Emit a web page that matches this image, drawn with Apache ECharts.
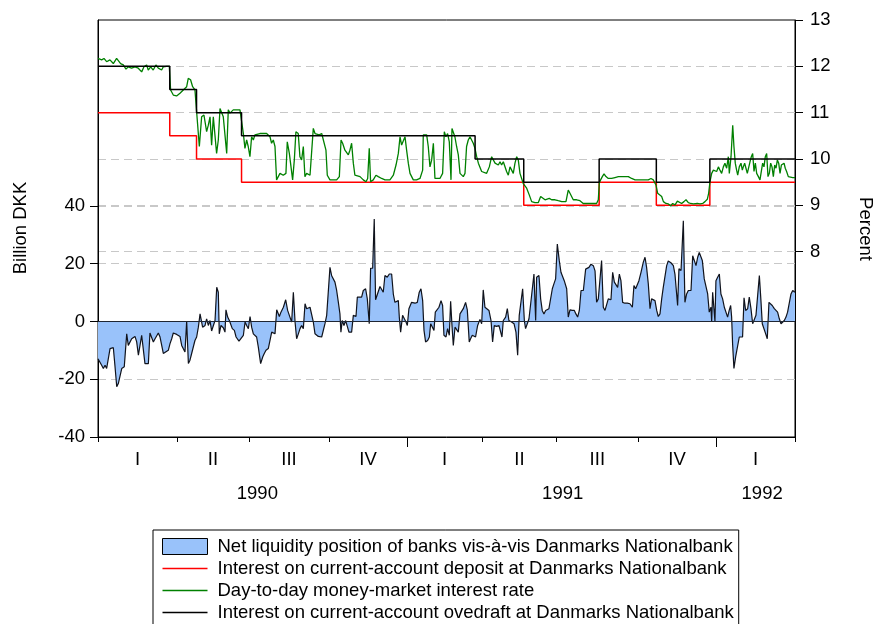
<!DOCTYPE html>
<html>
<head>
<meta charset="utf-8">
<script src="https://cdn.jsdelivr.net/npm/echarts@6/dist/echarts.min.js"></script>
<style>
  html, body { margin: 0; padding: 0; background: #fff; }
  #chart { width: 875px; height: 624px; }
</style>
</head>
<body>
<div id="chart"></div>
<script>
// Trading-day index at the start of each quarter, 1990Q1 .. 1992Q1 (last entry = end of sample)
const quarterStart = [0, 65, 124, 190, 254, 316, 377, 444, 508, 573];
const quarterNames = ['I', 'II', 'III', 'IV', 'I', 'II', 'III', 'IV', 'I'];
const yearStart = [254, 508];
const yearNames = ['1990', '1991', '1992'];
const yearLabelAt = [131, 382, 546];

// Official rates (percent), changing on the given trading days
const rateDay       = [0, 59, 81, 118, 310, 350, 412, 459, 503, 573];
const depositRate   = [11, 10.5, 10, 9.5, 9.5, 9, 9.5, 9, 9.5, 9.5];
const overdraftRate = [12, 11.5, 11, 10.5, 10, 9.5, 10, 9.5, 10, 10];

// Day-to-day money-market rate (percent): [trading day, rate]
const dayToDayRate = [
  [0,12.17],[3,12.14],[4.9,12.17],[7.1,12.10],[9.8,12.14],[12.6,12.06],[15.3,12.17],[16.7,12.17],[18.6,12.06],[20.8,12.03],
  [23,11.94],[24.9,11.99],[27.6,11.96],[30.4,11.99],[33.1,11.96],[35.9,11.88],[37.8,11.99],[40,12.03],[41.3,11.92],[43.3,11.99],
  [45.4,11.92],[47.6,12.03],[49.6,11.96],[52.3,11.92],[53.7,11.99],[56.4,12.0],[58.6,12.0],[59.7,11.49],[61.9,11.38],[64.6,11.36],
  [67.4,11.42],[70.1,11.49],[72.9,11.56],[74.2,11.74],[76.1,11.71],[77.8,11.56],[79.7,11.49],[81.1,11.45],[83.3,10.27],[85.2,10.91],
  [87.1,10.95],[89.3,10.59],[90.7,10.73],[92.1,10.91],[93.4,10.30],[94.8,10.91],[96.2,10.91],[97.5,10.12],[98.9,10.41],[100.3,11.09],
  [101.6,11.06],[103,10.91],[104.4,10.95],[105.8,10.12],[107.1,11.06],[108.5,10.99],[111.2,11.06],[112.6,11.09],[114.5,11.06],[116.7,11.06],
  [119.5,10.55],[120.8,10.23],[122.2,10.41],[123.5,10.27],[124.9,10.05],[126.3,10.48],[127.7,10.41],[129,10.52],[130.4,10.48],[133.1,10.55],
  [135.9,10.55],[138.6,10.55],[141.4,10.48],[142.7,10.34],[144.1,10.41],[145.5,10.27],[146.8,9.55],[149.6,9.69],[152.3,9.65],[154.5,9.69],
  [155.6,10.37],[157.3,10.12],[158.3,10.16],[160,9.55],[161.4,9.98],[162.7,10.59],[164.6,10.55],[166,10.05],[167.4,9.98],[168.8,10.27],
  [170.1,9.62],[171.5,9.69],[172.9,9.73],[174.3,9.65],[175.6,9.69],[177,10.66],[178.4,10.55],[179.8,10.55],[181.9,10.52],[183.9,10.55],
  [185.2,10.52],[187.4,10.19],[188.5,9.65],[190.7,9.55],[193.4,9.55],[196.2,9.55],[198.4,9.62],[199.8,10.41],[201.1,10.34],[203,10.19],
  [204.4,10.16],[205.8,10.09],[207.1,10.19],[208.5,10.34],[209.9,9.91],[211.2,9.65],[212.6,9.65],[215.4,9.62],[218.1,9.55],[220.3,9.51],
  [221.7,9.58],[223,10.23],[224.1,9.51],[226.3,9.55],[228.5,9.65],[230.4,9.62],[233.2,9.58],[235.9,9.55],[237.3,9.51],[240,9.55],
  [242.8,9.65],[245,9.87],[246.9,10.12],[248.3,10.48],[249.6,10.30],[251,10.27],[252.4,10.48],[253.7,10.19],[255.1,9.91],[256.5,9.69],
  [259.2,9.55],[261.9,9.55],[264.7,9.58],[266.9,9.76],[267.4,10.52],[268.8,10.55],[270.2,10.52],[271.5,10.27],[272.9,9.83],[274.3,9.98],
  [275.7,10.34],[277,9.58],[278.4,9.55],[281.1,9.58],[283.3,9.69],[284.7,10.59],[286,10.48],[287.4,10.55],[288.8,10.37],[290.2,9.55],
  [291,10.66],[292.1,10.63],[293.4,10.48],[294.8,10.27],[296.2,10.09],[297.6,9.69],[298.9,9.73],[300.3,9.62],[301.7,9.69],[303,10.27],
  [304.4,10.41],[305.8,10.48],[307.2,10.48],[308.5,10.34],[309.9,10.23],[311.3,10.05],[312.7,9.91],[315.4,9.73],[316.8,9.69],[319.5,9.69],
  [321.7,9.83],[323.6,10.05],[325,10.02],[326.4,9.91],[327.7,9.94],[329.1,9.87],[330.5,9.94],[331.8,9.87],[333.2,9.94],[334.6,9.94],
  [335.9,9.73],[337.3,9.65],[338.7,9.83],[340.1,9.80],[341.4,9.69],[342.8,9.91],[344.2,10.05],[345.5,9.98],[346.9,9.69],[348.3,9.65],
  [349.6,9.47],[351,9.44],[352.4,9.37],[354.6,9.22],[356.5,9.08],[359.2,9.06],[362,9.06],[363.9,9.19],[365.5,9.15],[367.5,9.12],
  [368.8,9.15],[371,9.15],[372.9,9.12],[375.7,9.12],[378.4,9.10],[381.2,9.08],[384.7,9.08],[386.6,9.33],[388,9.26],[390.7,9.12],
  [393.5,9.12],[396.2,9.10],[398.9,9.04],[403.1,9.04],[404.5,9.03],[407.2,9.04],[409.9,9.04],[411.3,9.12],[412.1,9.47],[413.2,9.55],
  [414.6,9.62],[416,9.68],[417.6,9.62],[419.5,9.58],[422.3,9.58],[425,9.60],[427.8,9.62],[430.5,9.62],[433.2,9.62],[436,9.62],
  [438.7,9.58],[441.5,9.55],[444.2,9.55],[448.3,9.55],[452.4,9.55],[454.6,9.58],[456.5,9.55],[458.7,9.44],[460.1,9.26],[461.5,9.22],
  [463.4,9.19],[464.8,9.08],[466.9,9.04],[468.9,9.03],[470.8,8.99],[472.4,9.04],[474.4,9.01],[476.3,9.09],[477.9,9.06],[479.8,9.04],
  [481.7,9.08],[483.4,9.12],[485.3,9.06],[487.2,9.04],[489.4,9.03],[490.8,8.99],[492.7,9.04],[494.9,9.03],[497.1,9.04],[499,9.08],
  [500.9,9.13],[502,9.26],[503.1,9.51],[504.5,9.69],[505.9,9.76],[507.2,9.80],[508.6,9.73],[510,9.83],[511.3,9.76],[512.7,9.69],
  [514.1,9.83],[515.4,9.91],[516.8,9.80],[518.2,10.05],[519,9.69],[520.4,10.05],[521.8,10.73],[522.8,10.27],[523.9,9.91],[525,9.76],
  [525.9,9.65],[527.2,9.83],[528.6,9.91],[529.7,9.76],[530.5,9.83],[531.6,9.91],[532.7,9.80],[533.8,9.69],[534.9,9.69],[536,9.94],
  [537.1,10.05],[538.2,10.12],[539.3,9.73],[540.4,9.91],[541.5,9.69],[542.9,9.62],[544.2,9.55],[545.6,9.58],[546.4,9.91],[547.5,9.83],
  [548.6,10.05],[549.7,10.12],[550.8,9.62],[551.9,9.69],[553,9.91],[554.1,9.83],[555.2,9.62],[556.3,9.87],[557.4,9.80],[558.5,9.98],
  [559.6,9.91],[560.7,9.69],[561.8,9.87],[562.9,9.91],[564,9.91],[565,9.80],[566.1,9.73],[567.5,9.62],[568.9,9.62],[571.1,9.60],
  [573,9.60]
];

// Net liquidity position of banks (billion DKK): [trading day, value]
const netLiquidity = [
  [0,-12.9],[3,-15.2],[4.4,-16.3],[5.8,-15.2],[7.1,-16.3],[8.5,-16.3],[9.9,-9.4],[12.6,-9.1],[14,-15.7],[15.4,-22.6],
  [16.7,-21.5],[18.1,-22.1],[19.5,-16.3],[21.6,-15.7],[23.6,-4.3],[24.9,-8.3],[27.7,-6.0],[30.4,-5.2],[31.8,-7.1],[33.2,-11.7],
  [34.5,-12.3],[35.9,-4.8],[37.3,-4.5],[38.6,-14.6],[40,-14.0],[41.4,-14.6],[42.7,-4.0],[44.1,-4.3],[45.5,-7.1],[46.9,-6.0],
  [49.6,-4.0],[51,-5.4],[52.3,-6.0],[53.7,-11.1],[55.1,-10.6],[57.8,-10.0],[59.2,-7.7],[60.6,-6.0],[61.9,-4.0],[64.7,-4.5],
  [67.4,-5.2],[68.8,-8.3],[70.2,-8.9],[71.5,-10.6],[72.9,0],[74.3,-14.6],[75.6,-13.4],[77,-11.1],[78.4,-10.6],[79.7,-6.6],
  [81.1,-5.4],[82.5,-2.0],[83.9,2.6],[85.2,2.4],[86,-2.0],[88,-1.4],[89.3,0.9],[90.7,-1.4],[92.1,0.3],[93.4,-3.3],
  [94.8,-3.1],[96.2,0.3],[97.6,11.8],[98.9,10.1],[99.7,-4.3],[101.1,-1.4],[103,-2.2],[104.4,-3.7],[105.2,4.0],[106.6,1.5],
  [108,0.3],[109.3,0.3],[110.4,-2.5],[112.1,-3.1],[113.5,-5.4],[114.8,-4.8],[115.9,-6.8],[117.3,-6.8],[119.5,-4.8],[120.9,-0.2],
  [122.2,-1.4],[123.6,-2.5],[125,1.7],[126.3,-2.0],[127.7,-4.3],[129.1,-4.5],[130.4,-5.4],[131.8,-8.9],[133.7,-14.6],[135.4,-12.3],
  [136.7,-11.1],[138.1,-10.0],[140,-9.4],[141.4,-8.9],[142.8,-3.7],[144.1,-3.1],[145.5,-4.3],[146.9,4.0],[148.3,4.3],[149.1,1.7],
  [150.4,3.2],[152.4,4.9],[154.3,7.5],[155.9,3.8],[157.8,1.5],[159.2,-0.2],[160.6,10.1],[162,-0.2],[163.3,-6.0],[164.7,-4.3],
  [166.1,-2.5],[167.4,-1.4],[168.8,-2.5],[170.2,6.1],[171.5,4.4],[172.9,3.8],[174.3,4.9],[175.7,5.5],[177,-0.2],[178.4,-4.3],
  [181.1,-5.2],[183.9,-5.4],[185.2,-6.0],[186.6,-0.8],[188,2.1],[189.4,2.6],[190.7,18.7],[192.1,15.8],[193.4,15.3],[194.8,13.6],
  [196.2,10.7],[197.6,6.6],[198.9,2.6],[199.7,-3.7],[200.8,0.3],[202.2,-1.4],[203.6,0.3],[205,0.3],[206.3,-3.7],[208.5,-3.7],
  [209.9,2.1],[212.1,1.7],[213.2,8.4],[214.5,8.9],[216.7,8.4],[218.1,10.7],[220,11.3],[221.4,7.8],[223,-0.8],[224.1,18.4],
  [225.8,18.4],[227.1,35.4],[228.2,7.5],[229.6,8.0],[231.8,12.1],[233.2,12.4],[234.5,10.1],[235.9,15.9],[237.8,15.3],[239.5,16.4],
  [241.4,16.4],[242.8,9.4],[244.1,6.6],[245.5,7.2],[246.9,7.2],[247.7,1.5],[248.8,-3.7],[250.4,2.1],[251.8,2.6],[253.2,-0.2],
  [254.3,-1.4],[255.6,4.4],[257.8,6.6],[260.6,6.3],[262.5,6.6],[264.1,10.1],[265.5,11.3],[266.9,7.2],[268,-3.1],[269.3,-7.1],
  [271,-6.6],[272.4,-5.4],[273.5,-0.8],[275.1,-1.4],[276.2,-3.1],[277.3,3.2],[278.4,3.8],[280.3,4.9],[282,7.2],[283.3,5.5],
  [284.4,-4.8],[286.1,-5.4],[287.4,-2.5],[288.8,-4.8],[289.9,7.0],[291,-1.4],[292.1,-8.3],[293.5,-2.0],[294.8,-1.4],[296.2,-3.7],
  [297.6,2.6],[298.9,3.2],[300.3,4.4],[302.2,6.6],[303.6,4.0],[305.2,-7.1],[306.3,-6.0],[307.7,-4.8],[309.1,-5.4],[310.4,-5.4],
  [312.1,-1.4],[314,0.7],[315.4,-0.8],[316.7,10.9],[318.1,4.9],[319.5,4.9],[321.4,3.8],[323.1,0.3],[324.4,-7.1],[325.8,-1.4],
  [327.7,-1.7],[329.6,-1.4],[331,-1.4],[332.1,-5.4],[333.2,0.3],[335.1,1.5],[336.5,4.4],[337.8,0.3],[340,-0.2],[342,-0.8],
  [343.6,-3.7],[345,-11.7],[346.3,2.1],[347.7,2.6],[349.1,11.3],[350.5,0.3],[351.5,-2.5],[352.9,-0.8],[354.3,0.9],[355.7,6.1],
  [357,5.5],[358.4,16.4],[359.8,0.3],[360.6,15.3],[362.5,15.9],[363.9,7.8],[365.2,3.8],[366.6,2.6],[368,3.8],[369.4,3.8],
  [370.7,4.4],[372.1,4.9],[373.5,11.3],[374.8,13.0],[376.2,14.7],[377.6,26.8],[379.2,21.1],[380.6,17.0],[382,16.4],[383.3,14.1],
  [385.3,11.3],[386.6,1.5],[388,4.0],[389.9,3.8],[391.6,3.8],[392.9,2.6],[394.3,1.5],[395.7,3.8],[397.1,10.7],[399,10.7],
  [400.9,18.1],[402.3,17.5],[403.6,18.7],[405.3,19.8],[407.2,19.3],[408.6,17.5],[409.9,6.6],[411.3,7.8],[412.7,7.8],[414,21.1],
  [415.4,4.9],[416.8,3.8],[418.2,4.4],[419.5,7.8],[421.7,7.5],[423.1,17.0],[424.5,13.6],[425.8,14.1],[427.2,11.8],[428.6,16.4],
  [429.9,14.1],[431.3,6.6],[433.2,6.3],[435.1,6.3],[437.3,6.1],[439.3,4.9],[440.6,12.4],[442,11.3],[443.6,11.8],[444.7,14.1],
  [446.4,17.0],[448.3,20.5],[449.7,22.2],[451,18.7],[452.4,13.0],[453.8,4.4],[455.1,7.8],[456.5,8.4],[457.9,7.2],[459.3,3.8],
  [460.6,1.7],[462,2.6],[463.4,7.8],[464.7,11.8],[466.1,12.4],[467.5,19.3],[468.8,20.9],[471,20.3],[473,19.3],[474.3,16.4],
  [475.7,9.5],[476.5,5.5],[477.6,18.2],[479.3,17.6],[481.2,34.8],[482.5,6.6],[483.9,9.5],[485.3,10.7],[487.5,10.7],[488.9,22.7],
  [490.2,21.1],[491.6,19.3],[493,22.2],[494.3,23.9],[495.7,24.5],[496.8,21.1],[498.4,14.7],[499.8,14.1],[501.2,9.5],[502.5,3.2],
  [503.9,4.9],[504.5,0.0],[505.3,10.1],[506.1,10.7],[507.2,0.0],[508,14.1],[509.4,15.3],[510.8,16.4],[512.1,9.5],[513.5,7.8],
  [514.9,4.9],[516.3,4.4],[517.6,1.5],[518.9,3.8],[520.1,5.5],[520.9,1.5],[521.7,-7.8],[522.8,-16.3],[524.2,-12.3],[525.8,-11.7],
  [527.2,-5.4],[528.6,-4.8],[529.9,-5.4],[531.1,8.2],[532.4,3.8],[534.1,4.4],[535.4,8.4],[536.8,4.4],[538.2,-0.8],[539.5,-1.4],
  [540.9,2.1],[542.3,2.6],[543.7,15.9],[545,7.2],[546.1,-0.8],[547.5,-1.4],[548.9,-4.3],[550.2,-6.0],[551.6,6.6],[553,7.2],
  [554.3,5.5],[556,4.4],[557.4,3.8],[558.7,3.2],[560.1,0.9],[561.5,-0.8],[562.8,-1.4],[564.2,0.3],[565.6,1.5],[566.9,3.2],
  [568.3,3.8],[569.7,9.5],[571.1,10.7],[572.4,10.1],[573,10.1]
];

const leftTicks  = [-40, -20, 0, 20, 40];
const rightTicks = [8, 9, 10, 11, 12, 13];

const FONT = 'Liberation Sans, Arial, Helvetica, sans-serif';
const LIQ_NAME = 'Net liquidity position of banks vis-à-vis Danmarks Nationalbank';
const DEP_NAME = 'Interest on current-account deposit at Danmarks Nationalbank';
const MM_NAME  = 'Day-to-day money-market interest rate';
const OVD_NAME = 'Interest on current-account ovedraft at Danmarks Nationalbank';

const quarterMid = quarterStart.slice(0, -1).map((s, i) => (s + quarterStart[i + 1]) / 2);
const pick = (list, names) => v => {
  const i = list.findIndex(m => Math.abs(m - v) < 1e-6);
  return i >= 0 ? names[i] : '';
};
const steps = vals => rateDay.map((d, i) => [d, vals[i]]);

// thin horizontal bar used as the legend key of a line series
const LINE_KEY = 'path://M0,0H90V3H0Z';

const dashed = { color: '#c8c8c8', type: [8, 5], width: 1 };
const axisText = { color: '#000', fontSize: 18.5, fontFamily: FONT };
const blackLine = { show: true, onZero: false, lineStyle: { color: '#000', width: 1 } };

const chart = echarts.init(document.getElementById('chart'), null, { renderer: 'canvas' });
chart.setOption({
  animation: false,
  backgroundColor: '#fff',
  textStyle: { fontFamily: FONT },
  grid: { left: 98, right: 80, top: 20, bottom: 187, show: true, borderColor: '#000', borderWidth: 1 },
  xAxis: [
    {
      type: 'value', position: 'bottom',
      min: quarterStart[0], max: quarterStart[quarterStart.length - 1],
      axisLine: blackLine,
      axisTick: { show: true, customValues: quarterStart, length: 5, lineStyle: { color: '#000', width: 1 } },
      axisLabel: { customValues: quarterMid, formatter: pick(quarterMid, quarterNames), margin: 13, ...axisText },
      splitLine: { show: false }
    },
    {
      type: 'value', position: 'bottom', offset: 0,
      min: quarterStart[0], max: quarterStart[quarterStart.length - 1],
      axisLine: { show: false, onZero: false },
      axisTick: { show: true, customValues: yearStart, length: 10, lineStyle: { color: '#000' } },
      axisLabel: { customValues: yearLabelAt, formatter: pick(yearLabelAt, yearNames), margin: 47, ...axisText },
      splitLine: { show: false }
    }
  ],
  yAxis: [
    {
      type: 'value', position: 'left', min: -40, max: 104.3,
      axisLine: blackLine,
      axisTick: { show: true, customValues: leftTicks, length: 8, lineStyle: { color: '#000' } },
      axisLabel: { customValues: leftTicks, margin: 13, ...axisText },
      splitLine: { show: true, showMinLine: false, lineStyle: dashed }
    },
    {
      type: 'value', position: 'right', min: 4, max: 13,
      axisLine: blackLine,
      axisTick: { show: true, customValues: rightTicks, length: 8, lineStyle: { color: '#000' } },
      axisLabel: { customValues: rightTicks, margin: 15, ...axisText },
      splitLine: { show: true, showMaxLine: false, lineStyle: dashed }
    }
  ],
  legend: {
    orient: 'vertical', left: 153, top: 530, height: 140,
    padding: [7, 5, 8, 9], itemGap: 3, itemWidth: 45, itemHeight: 16,
    borderColor: '#000', borderWidth: 1, backgroundColor: '#fff',
    textStyle: { color: '#000', fontSize: 18.5, fontFamily: FONT, padding: [0, 0, 0, 5] },
    selectedMode: false,
    data: [
      { name: LIQ_NAME, icon: 'rect', itemStyle: { color: '#99c2fa', borderColor: '#000', borderWidth: 1 } },
      { name: DEP_NAME, icon: LINE_KEY, itemStyle: { color: '#ff0000', borderWidth: 0 } },
      { name: MM_NAME,  icon: LINE_KEY, itemStyle: { color: '#008000', borderWidth: 0 } },
      { name: OVD_NAME, icon: LINE_KEY, itemStyle: { color: '#000000', borderWidth: 0 } }
    ]
  },
  graphic: [
    { type: 'text', rotation: Math.PI / 2, x: 21, y: 228,
      style: { text: 'Billion DKK', fill: '#000', font: '18.5px ' + FONT, textAlign: 'center', textVerticalAlign: 'middle' } },
    { type: 'text', rotation: -Math.PI / 2, x: 865, y: 229,
      style: { text: 'Percent', fill: '#000', font: '18.5px ' + FONT, textAlign: 'center', textVerticalAlign: 'middle' } }
  ],
  series: [
    {
      name: LIQ_NAME, type: 'line', xAxisIndex: 0, yAxisIndex: 0,
      data: netLiquidity, symbol: 'none', z: 2,
      lineStyle: { color: '#10131c', width: 1.2 },
      itemStyle: { color: '#99c2fa' },
      areaStyle: { color: '#99c2fa', opacity: 1 },
      markLine: { silent: true, symbol: 'none', label: { show: false },
        lineStyle: { color: '#1f2633', type: 'solid', width: 1.2 }, data: [{ yAxis: 0 }] }
    },
    {
      name: DEP_NAME, type: 'line', xAxisIndex: 0, yAxisIndex: 1,
      data: steps(depositRate), step: 'end', symbol: 'none', z: 3,
      lineStyle: { color: '#ff0000', width: 1.5 }, itemStyle: { color: '#ff0000' }
    },
    {
      name: MM_NAME, type: 'line', xAxisIndex: 0, yAxisIndex: 1,
      data: dayToDayRate, symbol: 'none', z: 4,
      lineStyle: { color: '#008000', width: 1.3 }, itemStyle: { color: '#008000' }
    },
    {
      name: OVD_NAME, type: 'line', xAxisIndex: 0, yAxisIndex: 1,
      data: steps(overdraftRate), step: 'end', symbol: 'none', z: 5,
      lineStyle: { color: '#000000', width: 1.5 }, itemStyle: { color: '#000000' }
    }
  ]
});
</script>
</body>
</html>
